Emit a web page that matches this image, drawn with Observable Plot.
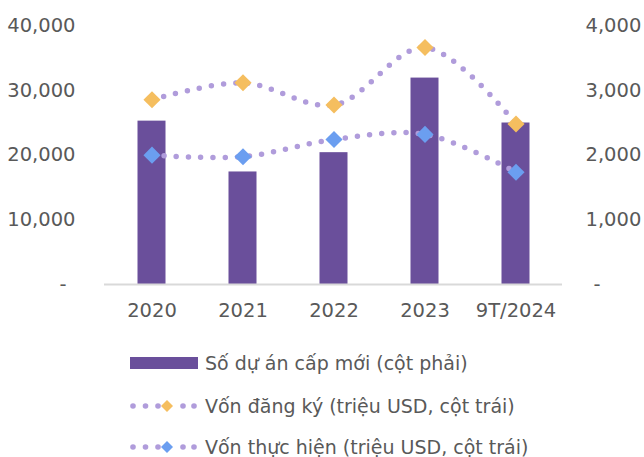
<!DOCTYPE html>
<html><head><meta charset="utf-8">
<script src="https://cdn.jsdelivr.net/npm/d3@7"></script>
<script src="https://cdn.jsdelivr.net/npm/@observablehq/plot@0.6"></script>
<style>
body{margin:0;background:#fff;font-family:"DejaVu Sans",sans-serif;color:#595959;}
#wrap{position:relative;width:644px;height:457px;overflow:hidden}
.leg{position:absolute;left:130px;display:flex;align-items:center;font-size:19px;height:30px;white-space:nowrap}
.leg svg{margin-right:7px}
</style></head><body><div id="wrap"><div id="chart"></div><div id="legend"></div></div>
<script>
const years = ["2020","2021","2022","2023","9T/2024"];
const newProjects = [2523,1738,2036,3188,2494];      // right axis
const registered = [28530,31150,27720,36610,24780];  // left axis (triệu USD)
const disbursed = [19980,19740,22400,23180,17340];   // left axis (triệu USD)
const leftTicks = [10000,20000,30000,40000];
const seriesNames = ["Số dự án cấp mới (cột phải)","Vốn đăng ký (triệu USD, cột trái)","Vốn thực hiện (triệu USD, cột trái)"];

const barColor = "#6a4f9b", lineColor = "#b09cdb", regColor = "#f5be5f", disColor = "#6b9ef0";
const rows = years.map((y,i)=>({year:y, proj:newProjects[i], reg:registered[i], dis:disbursed[i]}));
const fmt = d3.format(",");

const chart = Plot.plot({
  width:644, height:330,
  marginLeft:104, marginRight:82, marginTop:25, marginBottom:46,
  style:{fontSize:"19.5px", fontFamily:"'DejaVu Sans', sans-serif", color:"#595959", background:"#fff"},
  x:{domain:years, padding:0, label:null},
  y:{domain:[0,40000], label:null},
  marks:[
    Plot.barY(rows,{x:"year", y:d=>d.proj*10, fill:barColor, insetLeft:31.5, insetRight:31.5}),
    Plot.ruleY([0],{stroke:"#d9d9d9", strokeWidth:2}),
    Plot.line(rows,{x:"year", y:"reg", stroke:lineColor, strokeWidth:5.5, strokeDasharray:"0,12.2", strokeLinecap:"round", curve:"catmull-rom"}),
    Plot.line(rows,{x:"year", y:"dis", stroke:lineColor, strokeWidth:5.5, strokeDasharray:"0,12.2", strokeLinecap:"round", curve:"catmull-rom"}),
    Plot.dot(rows,{x:"year", y:"reg", symbol:"diamond2", r:7.7, fill:regColor, stroke:"none"}),
    Plot.dot(rows,{x:"year", y:"dis", symbol:"diamond2", r:7.7, fill:disColor, stroke:"none"}),
    Plot.axisY({anchor:"left", ticks:leftTicks, tickSize:0, tickPadding:29, tickFormat:fmt, label:null}),
    Plot.axisY({anchor:"left", ticks:[0], tickSize:0, tickPadding:38, tickFormat:()=>"-", label:null}),
    Plot.axisY({anchor:"right", ticks:leftTicks, tickSize:0, tickPadding:23, tickFormat:d=>fmt(d/10), label:null}),
    Plot.axisY({anchor:"right", ticks:[0], tickSize:0, tickPadding:31, tickFormat:()=>"-", label:null}),
    Plot.axisX({tickSize:0, tickPadding:19, label:null})
  ]
});
document.getElementById("chart").appendChild(chart);

const legend = document.getElementById("legend");
const dotsMarker = c => `<svg width="68" height="16">${[3,15.5,28,53,64].map(x=>`<circle cx="${x}" cy="8" r="2.8" fill="${lineColor}"/>`).join("")}<path d="M37,2 L43,8 L37,14 L31,8Z" fill="${c}"/></svg>`;
const items = [
  {top:348, m:`<svg width="68" height="12"><rect width="68" height="12" fill="${barColor}"/></svg>`},
  {top:391, m:dotsMarker(regColor)},
  {top:432, m:dotsMarker(disColor)}
];
items.forEach((it,i)=>{
  const d=document.createElement("div"); d.className="leg"; d.style.top=it.top+"px";
  d.innerHTML = it.m + `<span>${seriesNames[i]}</span>`;
  legend.appendChild(d);
});
</script></body></html>
